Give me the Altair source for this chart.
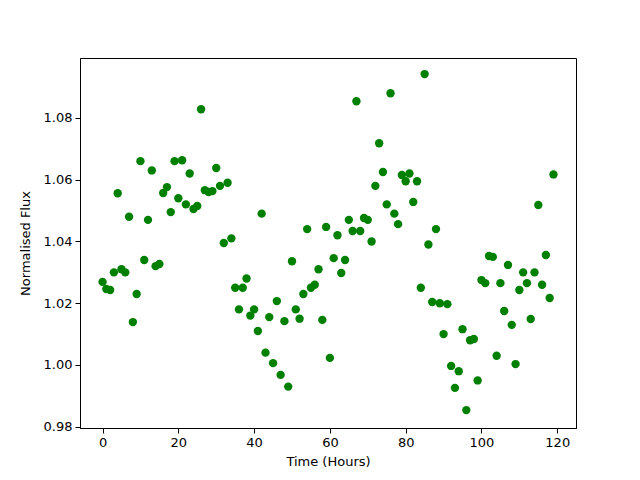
import altair as alt
import pandas as pd

hours = list(range(120))
flux = [
    1.0269, 1.0246, 1.0243, 1.0300, 1.0556, 1.0310, 1.0300, 1.0480, 1.0139, 1.0230,
    1.0660, 1.0340, 1.0470, 1.0630, 1.0320, 1.0327, 1.0557, 1.0576, 1.0495, 1.0660,
    1.0540, 1.0663, 1.0520, 1.0620, 1.0505, 1.0515, 1.0828, 1.0566, 1.0560, 1.0563,
    1.0638, 1.0580, 1.0395, 1.0590, 1.0410, 1.0250, 1.0180, 1.0250, 1.0280, 1.0160,
    1.0180, 1.0110, 1.0490, 1.0040, 1.0155, 1.0006, 1.0207, 0.9968, 1.0142, 0.9930,
    1.0336, 1.0180, 1.0150, 1.0230, 1.0440, 1.0250, 1.0260, 1.0310, 1.0146, 1.0447,
    1.0023, 1.0346, 1.0420, 1.0298, 1.0340, 1.0470, 1.0434, 1.0854, 1.0434, 1.0476,
    1.0470, 1.0400, 1.0580, 1.0718, 1.0625, 1.0520, 1.0880, 1.0490, 1.0456, 1.0615,
    1.0595, 1.0620, 1.0528, 1.0595, 1.0250, 1.0942, 1.0390, 1.0204, 1.0440, 1.0200,
    1.0100, 1.0197, 0.9997, 0.9926, 0.9980, 1.0116, 0.9854, 1.0080, 1.0084, 0.9950,
    1.0275, 1.0265, 1.0353, 1.0350, 1.0030, 1.0265, 1.0175, 1.0324, 1.0130, 1.0003,
    1.0243, 1.0300, 1.0265, 1.0149, 1.0300, 1.0518, 1.0260, 1.0356, 1.0217, 1.0617,
]
x_ticks = [0, 20, 40, 60, 80, 100, 120]
y_ticks = [0.98, 1.00, 1.02, 1.04, 1.06, 1.08]

df = pd.DataFrame({"t": hours, "flux": flux})

font = "DejaVu Sans"
axis_common = dict(
    labelFont=font, titleFont=font, labelFontSize=13, titleFontSize=13,
    titleFontWeight="normal", labelColor="black", titleColor="black",
    tickColor="black", domainColor="black", tickSize=5, grid=False,
    labelPadding=3,
)

chart = alt.Chart(df).mark_circle(size=70, color="#008000", opacity=1).encode(
    x=alt.X("t:Q", title="Time (Hours)",
            scale=alt.Scale(domain=[-5.95, 124.95], nice=False, zero=False),
            axis=alt.Axis(values=x_ticks, format="d", titlePadding=6, **axis_common)),
    y=alt.Y("flux:Q", title="Normalised Flux",
            scale=alt.Scale(domain=[0.9796, 1.0994], nice=False, zero=False),
            axis=alt.Axis(values=y_ticks, format=".2f", titlePadding=11, **axis_common)),
).properties(
    width=496, height=370,
    autosize=alt.AutoSizeParams(type="none"),
    padding={"left": 72, "top": 50, "right": 56, "bottom": 44},
).configure_view(stroke="black", strokeWidth=1)

chart.save("out.html", embed_options={"renderer": "svg", "actions": False})
